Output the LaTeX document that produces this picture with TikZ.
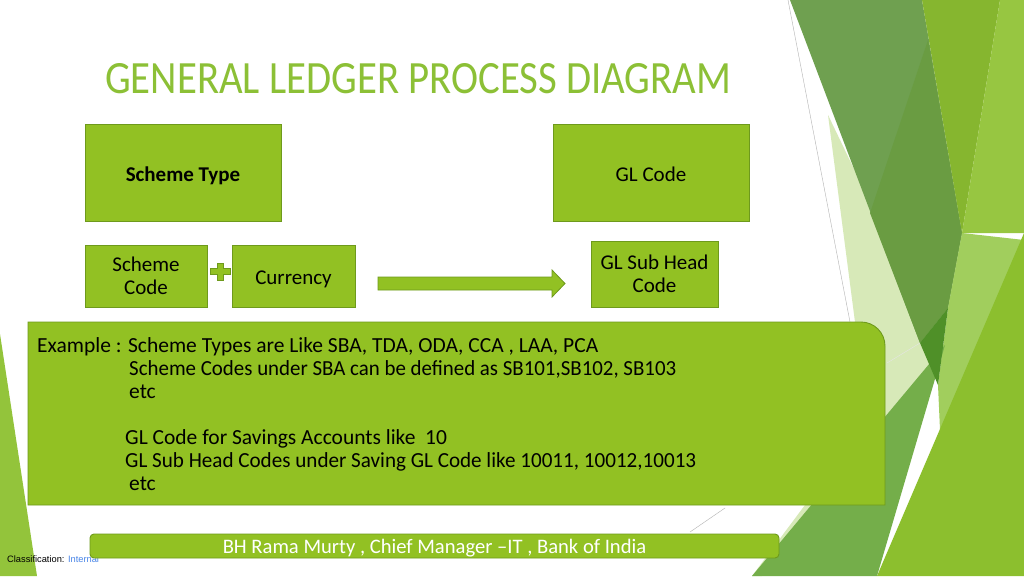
\documentclass[tikz,border=0pt]{standalone}
\usepackage{graphicx}
\usepackage{fontspec}
\setmainfont{Carlito}
\newfontfamily\arialf{Liberation Sans}
\definecolor{boxfill}{HTML}{92C123}
\definecolor{boxline}{HTML}{6E9A1C}
\definecolor{titlecol}{HTML}{8CC036}
\definecolor{bgmuted}{HTML}{6FA050}
\definecolor{bgdarker}{HTML}{6A9C42}
\definecolor{bgbright}{HTML}{86B62F}
\definecolor{bglight}{HTML}{97C641}
\definecolor{bglighter}{HTML}{A1CE5D}
\definecolor{bgpale}{HTML}{D7E9B8}
\definecolor{bgmedium}{HTML}{74AE4A}
\definecolor{bgtip}{HTML}{4F9028}
\definecolor{bgbig}{HTML}{8CBF2E}
\definecolor{bgleft}{HTML}{93C43B}
\definecolor{linkblue}{HTML}{4A86E8}
\tikzset{
  gbox/.style={draw=boxline, fill=boxfill, line width=0.9pt, inner sep=0pt, align=center, text=black},
  bodytxt/.style={font=\fontsize{21}{23}\selectfont},
  extxt/.style={anchor=base west, inner sep=0pt, font=\fontsize{21.5}{23}\selectfont, text=black},
  thinline/.style={draw=gray!60, line width=0.4pt}
}
\begin{document}
\begin{tikzpicture}[x=1pt,y=-1pt]
\useasboundingbox (0,0) rectangle (1024,576);
\fill[white] (0,0) rectangle (1024,576);
% background facets
\fill[bgpale] (828,115) -- (946,360) -- (762,576) -- (752,576) -- (805,505) -- (855,322) -- cycle;
\fill[bgmuted] (790,0) -- (922,0) -- (962,233) -- (948,308) -- (920,343) -- cycle;
\fill[bgdarker] (870,213) -- (928,40) -- (962,233) -- (948,308) -- (920,343) -- cycle;
\fill[bgbright] (922,0) -- (1000,0) -- (962,233) -- cycle;
\fill[bglight] (1000,0) -- (1024,0) -- (1024,233) -- (962,233) -- cycle;
\fill[bglighter] (962,233) -- (1024,240) -- (940,430) -- (938,385) -- (948,308) -- cycle;
\fill[bgmedium] (752,576) -- (945,345) -- (877,576) -- cycle;
\fill[bgtip] (920,343) -- (948,308) -- (938,385) -- cycle;
\fill[bgbig] (877,576) -- (1024,233) -- (1024,576) -- cycle;
\fill[bgleft] (0,334) -- (37,576) -- (0,576) -- cycle;
\coordinate (g1) at (788,0);
\coordinate (g2) at (850,322);
\coordinate (g3) at (690,532);
\coordinate (g4) at (725,508);
\coordinate (g5) at (887,363);
\coordinate (g6) at (920,343);
\draw[thinline] (g1) -- (g2);
\draw[thinline] (g3) -- (g4);
\draw[thinline, draw=white!80!gray] (g5) -- (g6);
% title
\node[anchor=base west, inner sep=0pt, text=titlecol] (title) at (105,93)
  {\resizebox{626pt}{30pt}{GENERAL LEDGER PROCESS DIAGRAM}};
% top boxes
\node[gbox, minimum width=196pt, minimum height=97pt, text height=17pt, text depth=0pt,
  font=\bfseries\fontsize{21}{23}\selectfont] (stype) at (183,172.5) {Scheme Type};
\node[gbox, minimum width=196pt, minimum height=97pt, text height=17pt, text depth=0pt, bodytxt] (glcode) at (651,172.5) {GL Code};
% second row
\node[gbox, minimum width=122pt, minimum height=62pt, bodytxt] (scode) at (146,276) {Scheme\\Code};
\node[gbox, minimum width=123pt, minimum height=62pt, text height=16pt, text depth=0pt, bodytxt] (curr) at (293.5,276) {Currency};
\node[gbox, minimum width=127pt, minimum height=66pt, bodytxt] (glsub) at (654.5,274) {GL Sub Head\\Code};
% plus sign
\coordinate (pc) at (220,271.5);
\draw[boxline, fill=boxfill, line width=0.8pt]
  ([shift={(-3,-8.5)}]pc) -- ([shift={(3,-8.5)}]pc) -- ([shift={(3,-3)}]pc) -- ([shift={(10,-3)}]pc)
  -- ([shift={(10,3)}]pc) -- ([shift={(3,3)}]pc) -- ([shift={(3,8.5)}]pc) -- ([shift={(-3,8.5)}]pc)
  -- ([shift={(-3,3)}]pc) -- ([shift={(-10,3)}]pc) -- ([shift={(-10,-3)}]pc) -- ([shift={(-3,-3)}]pc) -- cycle;
% block arrow
\coordinate (as) at (378,283.5);
\coordinate (ae) at (565,283.5);
\draw[boxline, fill=boxfill, line width=0.8pt]
  ([yshift=-6.5]as) -- ([xshift=-13,yshift=-6.5]ae) -- ([xshift=-13,yshift=-13.5]ae) -- (ae)
  -- ([xshift=-13,yshift=13.5]ae) -- ([xshift=-13,yshift=6.5]ae) -- ([yshift=6.5]as) -- cycle;
% example box
\draw[draw=boxline, fill=boxfill, line width=0.9pt]
  (28,322) -- (861,322) arc[start angle=-90, end angle=0, radius=24] -- (885,505) -- (28,505) -- cycle;
\node[extxt] (ex1) at (37,352) {Example : Scheme Types are Like SBA, TDA, ODA, CCA , LAA, PCA};
\node[extxt] (ex2) at (129,375) {\resizebox{547pt}{\height}{Scheme Codes under SBA can be defined as SB101,SB102, SB103}};
\node[extxt] (ex3) at (129,398) {etc};
\node[extxt] (ex4) at (125,444) {GL Code for Savings Accounts like~~10};
\node[extxt] (ex5) at (125,467) {\resizebox{571pt}{\height}{GL Sub Head Codes under Saving GL Code like 10011, 10012,10013}};
\node[extxt] (ex6) at (129,490) {etc};
% classification
\node[anchor=base west, inner sep=0pt, font=\arialf\fontsize{9.3}{11}\selectfont] (cls) at (7,562)
  {Classification: \textcolor{linkblue}{Internal}};
% footer
\node[draw=boxline, fill=boxfill, line width=0.9pt, rounded corners=4pt, minimum width=689pt, minimum height=24pt, inner sep=0pt,
  text height=15pt, text depth=0pt, text=white, font=\fontsize{20.6}{22}\selectfont] (footer) at (434.5,546) {BH Rama Murty , Chief Manager –IT , Bank of India};
\end{tikzpicture}
\end{document}
